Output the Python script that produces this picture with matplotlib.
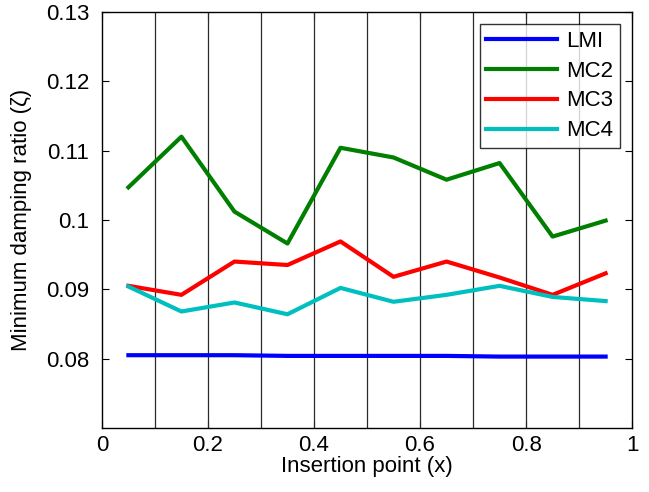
import matplotlib.pyplot as plt

plt.rcParams['font.family'] = ['Liberation Sans', 'DejaVu Sans']

# insertion points and minimum damping ratios
x = [0.05, 0.15, 0.25, 0.35, 0.45, 0.55, 0.65, 0.75, 0.85, 0.95]
lmi = [0.0805, 0.0805, 0.0805, 0.0804, 0.0804, 0.0804, 0.0804, 0.0803, 0.0803, 0.0803]
mc2 = [0.1047, 0.1120, 0.1012, 0.0966, 0.1104, 0.1090, 0.1058, 0.1082, 0.0976, 0.0999]
mc3 = [0.0905, 0.0892, 0.0940, 0.0935, 0.0969, 0.0918, 0.0940, 0.0917, 0.0892, 0.0923]
mc4 = [0.0904, 0.0868, 0.0881, 0.0864, 0.0902, 0.0882, 0.0892, 0.0905, 0.0889, 0.0883]
bounds = [0.1, 0.2, 0.3, 0.4, 0.5, 0.6, 0.7, 0.8, 0.9]

fig = plt.figure(figsize=(6.49, 4.92), dpi=100)
ax = fig.add_axes([0.157, 0.130, 0.817, 0.846])

for b in bounds:
    ax.axvline(b, color='#2a2a2a', lw=0.9)

ax.plot(x, lmi, color='#0000ff', lw=3, label='LMI')
ax.plot(x, mc2, color='#007f00', lw=3, label='MC2')
ax.plot(x, mc3, color='#ff0000', lw=3, label='MC3')
ax.plot(x, mc4, color='#00bfbf', lw=3, label='MC4')

ax.set_xlim(0, 1)
ax.set_ylim(0.07, 0.13)
ax.set_xticks([0, 0.2, 0.4, 0.6, 0.8, 1])
ax.set_xticklabels(['0', '0.2', '0.4', '0.6', '0.8', '1'])
ax.set_yticks([0.08, 0.09, 0.1, 0.11, 0.12, 0.13])
ax.set_yticklabels(['0.08', '0.09', '0.1', '0.11', '0.12', '0.13'])
ax.tick_params(direction='in', top=True, right=True, labelsize=16, length=5)
ax.tick_params(axis='x', pad=5)
ax.tick_params(axis='y', pad=9)
for s in ax.spines.values():
    s.set_linewidth(1)

ax.set_xlabel('Insertion point (x)', fontsize=16, labelpad=0)
ax.set_ylabel('Minimum damping ratio (ζ)', fontsize=16, labelpad=10)

leg = ax.legend(loc='upper right', fontsize=16, handlelength=3.2, frameon=True,
                fancybox=False, edgecolor='black', borderaxespad=0.55,
                labelspacing=0.4, handletextpad=0.4, borderpad=0.3)
leg.get_frame().set_linewidth(1)

plt.savefig('out.png', dpi=100)
